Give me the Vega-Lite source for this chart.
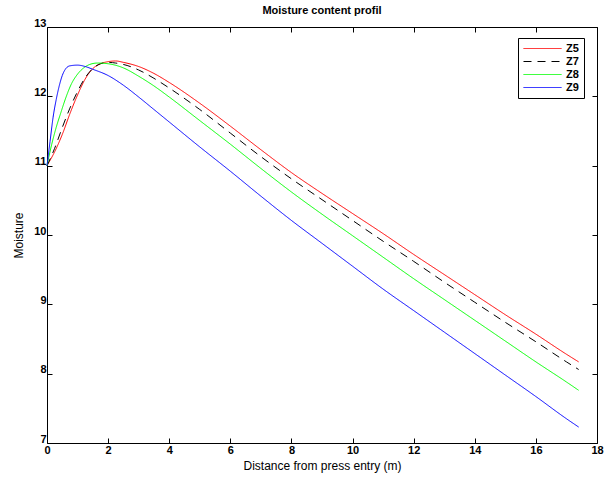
{
  "$schema": "https://vega.github.io/schema/vega-lite/v6.json",
  "autosize": "none",
  "width": 550,
  "height": 416,
  "padding": {"left": 47, "top": 27, "right": 7, "bottom": 36},
  "config": {
    "font": "Liberation Sans",
    "view": {"stroke": "#000", "strokeWidth": 1},
    "axis": {"domain": false, "grid": false, "tickColor": "#000", "labelColor": "#000", "titleColor": "#000", "labelFont": "Liberation Sans", "labelFontWeight": "bold", "labelFontSize": 11, "titleFont": "Liberation Sans", "titleFontWeight": "normal", "titleFontSize": 12}
  },
  "title": {"text": "Moisture content profil", "fontSize": 11, "fontWeight": "bold", "font": "Liberation Sans", "color": "#000", "offset": 1, "anchor": "middle"},
  "data": {"values": [
    {"x": 0, "y": 11.0, "s": "Z5"}, {"x": 0.25, "y": 11.2, "s": "Z5"}, {"x": 0.5, "y": 11.45, "s": "Z5"}, {"x": 0.75, "y": 11.75, "s": "Z5"}, {"x": 1.0, "y": 12.02, "s": "Z5"}, {"x": 1.25, "y": 12.25, "s": "Z5"}, {"x": 1.5, "y": 12.4, "s": "Z5"}, {"x": 1.75, "y": 12.47, "s": "Z5"}, {"x": 2.0, "y": 12.5, "s": "Z5"}, {"x": 2.25, "y": 12.51, "s": "Z5"}, {"x": 2.5, "y": 12.49, "s": "Z5"}, {"x": 3.0, "y": 12.43, "s": "Z5"}, {"x": 3.5, "y": 12.33, "s": "Z5"}, {"x": 4.0, "y": 12.2, "s": "Z5"}, {"x": 5.0, "y": 11.9, "s": "Z5"}, {"x": 6.0, "y": 11.57, "s": "Z5"}, {"x": 7.0, "y": 11.23, "s": "Z5"}, {"x": 8.0, "y": 10.9, "s": "Z5"}, {"x": 9.0, "y": 10.6, "s": "Z5"}, {"x": 10.0, "y": 10.31, "s": "Z5"}, {"x": 11.0, "y": 10.02, "s": "Z5"}, {"x": 12.0, "y": 9.72, "s": "Z5"}, {"x": 13.0, "y": 9.43, "s": "Z5"}, {"x": 14.0, "y": 9.14, "s": "Z5"}, {"x": 15.0, "y": 8.85, "s": "Z5"}, {"x": 16.0, "y": 8.57, "s": "Z5"}, {"x": 17.0, "y": 8.28, "s": "Z5"}, {"x": 17.4, "y": 8.17, "s": "Z5"},
    {"x": 0, "y": 11.0, "s": "Z7"}, {"x": 0.25, "y": 11.25, "s": "Z7"}, {"x": 0.5, "y": 11.55, "s": "Z7"}, {"x": 0.75, "y": 11.83, "s": "Z7"}, {"x": 1.0, "y": 12.07, "s": "Z7"}, {"x": 1.25, "y": 12.27, "s": "Z7"}, {"x": 1.5, "y": 12.4, "s": "Z7"}, {"x": 1.75, "y": 12.47, "s": "Z7"}, {"x": 2.0, "y": 12.49, "s": "Z7"}, {"x": 2.25, "y": 12.48, "s": "Z7"}, {"x": 2.5, "y": 12.46, "s": "Z7"}, {"x": 3.0, "y": 12.38, "s": "Z7"}, {"x": 3.5, "y": 12.26, "s": "Z7"}, {"x": 4.0, "y": 12.12, "s": "Z7"}, {"x": 5.0, "y": 11.81, "s": "Z7"}, {"x": 6.0, "y": 11.47, "s": "Z7"}, {"x": 7.0, "y": 11.13, "s": "Z7"}, {"x": 8.0, "y": 10.81, "s": "Z7"}, {"x": 9.0, "y": 10.51, "s": "Z7"}, {"x": 10.0, "y": 10.21, "s": "Z7"}, {"x": 11.0, "y": 9.91, "s": "Z7"}, {"x": 12.0, "y": 9.62, "s": "Z7"}, {"x": 13.0, "y": 9.32, "s": "Z7"}, {"x": 14.0, "y": 9.03, "s": "Z7"}, {"x": 15.0, "y": 8.74, "s": "Z7"}, {"x": 16.0, "y": 8.46, "s": "Z7"}, {"x": 17.0, "y": 8.17, "s": "Z7"}, {"x": 17.4, "y": 8.06, "s": "Z7"},
    {"x": 0, "y": 11.0, "s": "Z8"}, {"x": 0.15, "y": 11.3, "s": "Z8"}, {"x": 0.3, "y": 11.55, "s": "Z8"}, {"x": 0.45, "y": 11.76, "s": "Z8"}, {"x": 0.6, "y": 11.96, "s": "Z8"}, {"x": 0.8, "y": 12.18, "s": "Z8"}, {"x": 1.0, "y": 12.32, "s": "Z8"}, {"x": 1.2, "y": 12.41, "s": "Z8"}, {"x": 1.4, "y": 12.46, "s": "Z8"}, {"x": 1.65, "y": 12.48, "s": "Z8"}, {"x": 2.0, "y": 12.47, "s": "Z8"}, {"x": 2.5, "y": 12.41, "s": "Z8"}, {"x": 3.0, "y": 12.29, "s": "Z8"}, {"x": 3.5, "y": 12.15, "s": "Z8"}, {"x": 4.0, "y": 11.99, "s": "Z8"}, {"x": 5.0, "y": 11.65, "s": "Z8"}, {"x": 6.0, "y": 11.31, "s": "Z8"}, {"x": 7.0, "y": 10.96, "s": "Z8"}, {"x": 8.0, "y": 10.62, "s": "Z8"}, {"x": 9.0, "y": 10.3, "s": "Z8"}, {"x": 10.0, "y": 9.99, "s": "Z8"}, {"x": 11.0, "y": 9.68, "s": "Z8"}, {"x": 12.0, "y": 9.37, "s": "Z8"}, {"x": 13.0, "y": 9.07, "s": "Z8"}, {"x": 14.0, "y": 8.77, "s": "Z8"}, {"x": 15.0, "y": 8.47, "s": "Z8"}, {"x": 16.0, "y": 8.17, "s": "Z8"}, {"x": 17.0, "y": 7.88, "s": "Z8"}, {"x": 17.4, "y": 7.76, "s": "Z8"},
    {"x": 0, "y": 11.0, "s": "Z9"}, {"x": 0.1, "y": 11.35, "s": "Z9"}, {"x": 0.2, "y": 11.7, "s": "Z9"}, {"x": 0.3, "y": 11.95, "s": "Z9"}, {"x": 0.4, "y": 12.15, "s": "Z9"}, {"x": 0.5, "y": 12.3, "s": "Z9"}, {"x": 0.6, "y": 12.39, "s": "Z9"}, {"x": 0.75, "y": 12.44, "s": "Z9"}, {"x": 1.0, "y": 12.45, "s": "Z9"}, {"x": 1.25, "y": 12.43, "s": "Z9"}, {"x": 1.5, "y": 12.39, "s": "Z9"}, {"x": 2.0, "y": 12.3, "s": "Z9"}, {"x": 2.5, "y": 12.16, "s": "Z9"}, {"x": 3.0, "y": 11.99, "s": "Z9"}, {"x": 3.5, "y": 11.81, "s": "Z9"}, {"x": 4.0, "y": 11.63, "s": "Z9"}, {"x": 5.0, "y": 11.27, "s": "Z9"}, {"x": 6.0, "y": 10.92, "s": "Z9"}, {"x": 7.0, "y": 10.56, "s": "Z9"}, {"x": 8.0, "y": 10.21, "s": "Z9"}, {"x": 9.0, "y": 9.88, "s": "Z9"}, {"x": 10.0, "y": 9.55, "s": "Z9"}, {"x": 11.0, "y": 9.22, "s": "Z9"}, {"x": 12.0, "y": 8.91, "s": "Z9"}, {"x": 13.0, "y": 8.6, "s": "Z9"}, {"x": 14.0, "y": 8.29, "s": "Z9"}, {"x": 15.0, "y": 7.98, "s": "Z9"}, {"x": 16.0, "y": 7.67, "s": "Z9"}, {"x": 17.0, "y": 7.35, "s": "Z9"}, {"x": 17.4, "y": 7.23, "s": "Z9"}
  ]},
  "layer": [
    {
      "mark": {"type": "line", "strokeWidth": 1, "interpolate": "monotone"},
      "encoding": {
        "x": {"field": "x", "type": "quantitative", "scale": {"domain": [0, 18], "nice": false, "zero": false},
          "axis": {"title": "Distance from press entry (m)", "values": [0,2,4,6,8,10,12,14,16,18], "tickSize": -5, "labelPadding": 6, "titlePadding": 5, "labelFlush": false}},
        "y": {"field": "y", "type": "quantitative", "scale": {"domain": [7, 13], "nice": false, "zero": false},
          "axis": {"title": "Moisture", "values": [7,8,9,10,11,12,13], "tickSize": -5, "labelPadding": 6, "titlePadding": 8, "labelFlush": false, "labelBaseline": "alphabetic", "labelOffset": -1}},
        "color": {"field": "s", "type": "nominal", "scale": {"domain": ["Z5","Z7","Z8","Z9"], "range": ["#ff0000","#000000","#00ff00","#0000ff"]},
          "legend": {"title": null, "orient": "none", "legendX": 471, "legendY": 11, "symbolType": "M-1,0H6.6", "symbolSize": 100, "symbolStrokeWidth": 1, "strokeColor": "#000", "padding": 5, "rowPadding": 1, "labelFontSize": 11, "labelFont": "Liberation Sans", "labelFontWeight": "bold", "labelColor": "#000", "labelOffset": 32}},
        "strokeDash": {"field": "s", "type": "nominal", "scale": {"domain": ["Z5","Z7","Z8","Z9"], "range": [[1,0],[8,6],[1,0],[1,0]]}, "legend": {"title": null}}
      }
    },
    {
      "mark": {"type": "rule", "opacity": 0},
      "encoding": {
        "x": {"datum": 0, "type": "quantitative", "axis": {"orient": "top", "labels": false, "title": null, "values": [0,2,4,6,8,10,12,14,16,18], "tickSize": -5}},
        "y": {"datum": 7, "type": "quantitative", "axis": {"orient": "right", "labels": false, "title": null, "values": [7,8,9,10,11,12,13], "tickSize": -5}}
      }
    }
  ],
  "resolve": {"axis": {"x": "independent", "y": "independent"}}
}
